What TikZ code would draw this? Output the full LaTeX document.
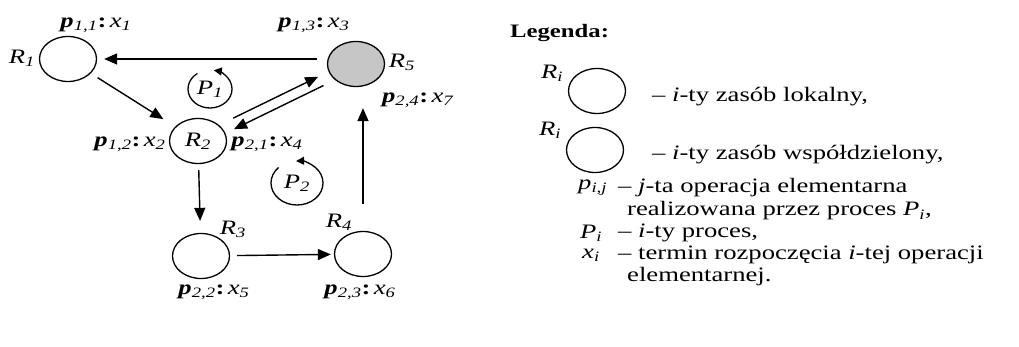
\documentclass[tikz,border=0pt]{standalone}
\usepackage{fontspec}
\setmainfont{Liberation Serif}[FakeStretch=1.3]
\usetikzlibrary{arrows.meta,shapes.geometric}
\newcommand{\oplbl}[3]{\textbf{\textit{p}}\textsubscript{\textit{#1,#2}}\textbf{:}\,\textit{x}\textsubscript{\textit{#3}}}
\newcommand{\resl}[1]{\textit{R}\textsubscript{\textit{#1}}}
\begin{document}
\begin{tikzpicture}[x=1pt,y=1pt,font=\fontsize{20.5}{24}\selectfont,
  res/.style={ellipse,draw,line width=1.3pt,minimum width=57pt,minimum height=45pt,inner sep=0pt},
  arr/.style={line width=1.4pt,-{Triangle[length=13pt,width=11pt]}},
  cyc/.style={line width=1.3pt,-{Triangle[length=8pt,width=8pt]}},
  txt/.style={anchor=west,inner sep=0pt}]
\useasboundingbox (0,0) rectangle (1019,-347);
% resources
\node[res] (R1) at (68,-59) {};
\node[res,fill=gray!45] (R5) at (356,-64) {};
\node[res] (R2) at (198,-141) {\resl{2}};
\node[res] (R3) at (201,-256) {};
\node[res] (R4) at (363,-254) {};
% labels
\node (lR1) at (22,-58) {\resl{1}};
\node (p11) at (96,-25) {\oplbl{1}{1}{1}};
\node (p13) at (314,-25) {\oplbl{1}{3}{3}};
\node (lR5) at (402,-62) {\resl{5}};
\node (p24) at (418,-100) {\oplbl{2}{4}{7}};
\node (p12) at (130,-144) {\oplbl{1}{2}{2}};
\node (p21) at (267,-144) {\oplbl{2}{1}{4}};
\node (lR3) at (233,-229) {\resl{3}};
\node (lR4) at (339,-222) {\resl{4}};
\node (p22) at (214,-292) {\oplbl{2}{2}{5}};
\node (p23) at (360,-292) {\oplbl{2}{3}{6}};
% processes
\node (P1) at (210,-89) {\textit{P}\textsubscript{\textit{1}}};
\draw[cyc] (P1.center) ++(125:22pt and 19pt) arc[start angle=125,end angle=440,x radius=22pt,y radius=19pt];
\node (P2) at (297,-183) {\textit{P}\textsubscript{\textit{2}}};
\draw[cyc] (P2.center) ++(135:26pt and 22pt) arc[start angle=135,end angle=452,x radius=26pt,y radius=22pt];
% connectors
\draw[arr,shorten <=10pt,shorten >=7pt] (R5.west |- R1.east) -- (R1.east);
\draw[arr,shorten <=8pt,shorten >=14pt] (R1) -- (R2);
\draw[arr,shorten <=14pt,shorten >=12pt,transform canvas={shift={(-2.2pt,4.6pt)}}] (R2) -- (R5);
\draw[arr,shorten <=11pt,shorten >=10pt,transform canvas={shift={(2.2pt,-4.6pt)}}] (R5) -- (R2);
\draw[arr,shorten <=6pt,shorten >=12pt] (R2) -- (R3);
\draw[arr,shorten <=7pt,shorten >=3pt] (R3) -- (R4);
\draw[arr,shorten <=27pt,shorten >=21pt] (R4.north) -- (R4.north |- R5.south);
% legend
\node[txt,font=\fontsize{19}{23}\selectfont\bfseries] (leg) at (510,-33) {Legenda:};
\node[res] (L1) at (597,-91) {};
\node (lL1) at (552,-73) {\resl{i}};
\node[txt] (t1) at (652,-97) {– \textit{i}-ty zasób lokalny,};
\node[res] (L2) at (595,-150) {};
\node (lL2) at (550,-130) {\resl{i}};
\node[txt] (t2) at (652,-155) {– \textit{i}-ty zasób współdzielony,};
\node[txt] (s3) at (578,-188) {\textit{p}\textsubscript{\textit{i,j}}};
\node[txt] (t3) at (618,-188) {– \textit{j}-ta operacja elementarna};
\node[txt] (t3b) at (627,-211) {realizowana przez proces \textit{P}\textsubscript{\textit{i}},};
\node[txt] (s4) at (580,-233) {\textit{P}\textsubscript{\textit{i}}};
\node[txt] (t4) at (618,-233) {– \textit{i}-ty proces,};
\node[txt] (s5) at (582,-255) {\textit{x}\textsubscript{\textit{i}}};
\node[txt] (t5) at (618,-255) {– termin rozpoczęcia \textit{i}-tej operacji};
\node[txt] (t5b) at (627,-277) {elementarnej.};
\end{tikzpicture}
\end{document}
